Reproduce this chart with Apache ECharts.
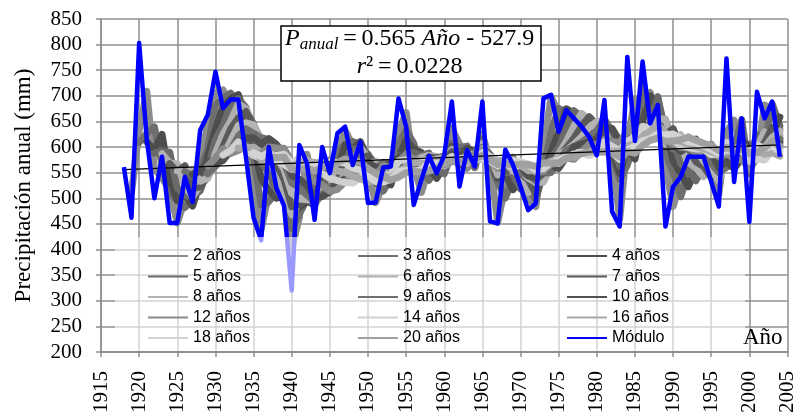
<!DOCTYPE html>
<html>
<head>
<meta charset="utf-8">
<script src="https://cdn.jsdelivr.net/npm/echarts@6/dist/echarts.min.js"></script>
<style>
  html, body { margin: 0; padding: 0; background: #fff; }
  #chart { width: 798px; height: 420px; }
</style>
</head>
<body>
<div id="chart"></div>
<script>
const years = [1918, 1919, 1920, 1921, 1922, 1923, 1924, 1925, 1926, 1927,
    1928, 1929, 1930, 1931, 1932, 1933, 1934, 1935, 1936, 1937,
    1938, 1939, 1940, 1941, 1942, 1943, 1944, 1945, 1946, 1947,
    1948, 1949, 1950, 1951, 1952, 1953, 1954, 1955, 1956, 1957,
    1958, 1959, 1960, 1961, 1962, 1963, 1964, 1965, 1966, 1967,
    1968, 1969, 1970, 1971, 1972, 1973, 1974, 1975, 1976, 1977,
    1978, 1979, 1980, 1981, 1982, 1983, 1984, 1985, 1986, 1987,
    1988, 1989, 1990, 1991, 1992, 1993, 1994, 1995, 1996, 1997,
    1998, 1999, 2000, 2001, 2002, 2003, 2004];

// precipitación anual (mm)
const modulo = [561, 462, 803, 615, 500, 581, 452, 452, 542, 493,
    633, 663, 747, 676, 693, 693, 580, 462, 418, 600,
    520, 485, 320, 604, 568, 458, 600, 549, 627, 640,
    565, 610, 491, 492, 560, 562, 695, 640, 487, 536,
    583, 549, 584, 689, 523, 594, 562, 689, 455, 451,
    595, 566, 523, 477, 490, 695, 702, 630, 672, 656,
    640, 620, 584, 692, 474, 445, 776, 612, 767, 646,
    682, 445, 523, 542, 581, 581, 581, 532, 484, 773,
    532, 656, 454, 708, 656, 689, 581];

// periodos de las medias móviles y su gris
const periodos = [2, 3, 4, 5, 6, 7, 8, 9, 10, 12, 14, 16, 18, 20];
const grises = ['#8c8c8c', '#6e6e6e', '#4d4d4d', '#6a6a6a', '#b0b0b0', '#5a5a5a', '#b4b4b4',
    '#707070', '#505050', '#8a8a8a', '#d0d0d0', '#a8a8a8', '#d4d4d4', '#a0a0a0'];

// recta de tendencia: P = 0.565 Año - 527.9
const tendencia = [[1918, 555.8], [2004, 604.4]];

const yTicks = { min: 200, max: 850, step: 50 };
const xTicks = { min: 1915, max: 2005, step: 5 };

// media móvil (como la línea de tendencia de Excel)
function mediaMovil(n) {
    let out = [];
    for (let i = n - 1; i < modulo.length; i++) {
        let s = 0;
        for (let k = i - n + 1; k <= i; k++) s += modulo[k];
        out.push([years[i], s / n]);
    }
    return out;
}

let chart = echarts.init(document.getElementById('chart'));

const serif = '"Liberation Serif", "Times New Roman", serif';
const sans = '"Liberation Sans", Arial, sans-serif';
const gridGray = '#8f8f8f';

let series = periodos.map((n, i) => ({
    name: n + ' años',
    type: 'line',
    data: mediaMovil(n),
    symbol: 'none',
    lineStyle: { color: grises[i], width: 7, cap: 'round', join: 'round' },
    itemStyle: { color: grises[i] },
    z: 2,
    silent: true
}));

series.push({
    name: 'tendencia',
    type: 'line',
    data: tendencia,
    symbol: 'none',
    lineStyle: { color: '#000', width: 1.2 },
    z: 2,
    silent: true
});

series.push({
    name: 'Módulo',
    type: 'line',
    data: years.map((y, i) => [y, modulo[i]]),
    symbol: 'none',
    lineStyle: { color: '#0000ff', width: 4.5, join: 'round' },
    itemStyle: { color: '#0000ff' },
    z: 3,
    silent: true
});

const legendBase = {
    orient: 'vertical',
    top: 243,
    icon: 'rect',
    itemWidth: 40,
    itemHeight: 2,
    itemGap: 4.5,
    z: 10,
    textStyle: { fontFamily: sans, fontSize: 16, lineHeight: 16, color: '#000' },
    selectedMode: false
};

const option = {
    animation: false,
    title: {
        left: 281,
        top: 24,
        text: '{i|P}{s|anual}{n|\u2009=\u20090.565 }{i|Año}{n| - 527.9}\n{i|r}{n|²\u2009=\u20090.0228}',
        backgroundColor: '#fff',
        borderColor: '#000',
        borderWidth: 1.5,
        padding: [1, 7, 2, 4],
        textStyle: {
            fontWeight: 'normal',
            rich: {
                i: { fontFamily: serif, fontStyle: 'italic', fontWeight: 'normal', fontSize: 24, lineHeight: 28, align: 'center', color: '#000' },
                n: { fontFamily: serif, fontWeight: 'normal', fontSize: 24, lineHeight: 28, align: 'center', color: '#000' },
                s: { fontFamily: serif, fontStyle: 'italic', fontWeight: 'normal', fontSize: 17, lineHeight: 13, verticalAlign: 'bottom', align: 'center', color: '#000' }
            }
        },
        z: 8
    },
    legend: [
        Object.assign({}, legendBase, { left: 143, data: ['2 años', '5 años', '8 años', '12 años', '18 años'] }),
        Object.assign({}, legendBase, { left: 353, data: ['3 años', '6 años', '9 años', '14 años', '20 años'] }),
        Object.assign({}, legendBase, { left: 562, data: ['4 años', '7 años', '10 años', '16 años', 'Módulo'] })
    ],
    grid: { left: 101, right: 1, top: 19, bottom: 68 },
    xAxis: {
        type: 'value',
        min: xTicks.min,
        max: xTicks.max,
        interval: xTicks.step,
        axisLine: { lineStyle: { color: gridGray, width: 2 } },
        axisTick: { show: true, length: 5, lineStyle: { color: gridGray, width: 1.5 } },
        splitLine: { show: true, lineStyle: { color: gridGray, width: 1.5 } },
        axisLabel: {
            rotate: 90,
            margin: 19,
            fontFamily: serif,
            fontSize: 21,
            color: '#000',
            showMinLabel: true,
            showMaxLabel: true,
            formatter: (v) => String(v)
        }
    },
    yAxis: {
        type: 'value',
        min: yTicks.min,
        max: yTicks.max,
        interval: yTicks.step,
        name: 'Precipitación anual (mm)',
        nameLocation: 'middle',
        nameGap: 66,
        nameTextStyle: { fontFamily: serif, fontSize: 23, color: '#000' },
        axisLine: { show: true, lineStyle: { color: gridGray, width: 1.5 } },
        axisTick: { show: true, length: 5, lineStyle: { color: gridGray, width: 1.5 } },
        splitLine: { show: true, lineStyle: { color: gridGray, width: 1.5 } },
        axisLabel: { margin: 19, fontFamily: serif, fontSize: 21, color: '#000' }
    },
    graphic: [
        {
            type: 'rect',
            z: 5,
            shape: { x: 115, y: 237, width: 630, height: 114 },
            style: { fill: 'rgba(255,255,255,0.6)' },
            silent: true
        },
        {
            type: 'text',
            z: 6,
            left: 743,
            top: 326,
            style: { text: 'Año', font: '23px ' + serif, fill: '#000' },
            silent: true
        }
    ],
    series: series
};

option && chart.setOption(option);
window.addEventListener('resize', chart.resize);
</script>
</body>
</html>
